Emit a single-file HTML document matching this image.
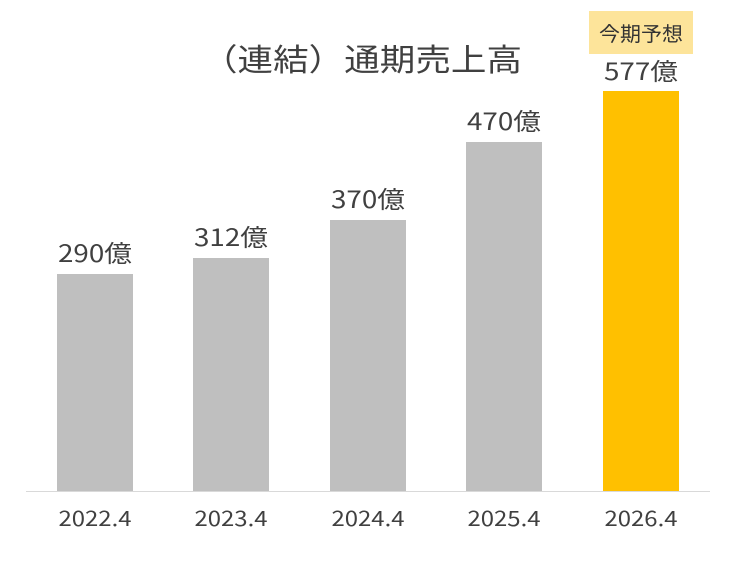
<!DOCTYPE html>
<html><head><meta charset="utf-8"><style>
html,body{margin:0;padding:0;background:#fff;}
svg{display:block;font-family:"Noto Sans CJK JP","Liberation Sans",sans-serif;}
</style></head><body>
<svg width="735" height="564" viewBox="0 0 735 564">
<rect x="589" y="11" width="104" height="43" fill="#fde49a"/>
<text x="641" y="41" font-size="20" fill="#333" text-anchor="middle" textLength="84" lengthAdjust="spacingAndGlyphs">今期予想</text>
<text x="362" y="71" font-size="31" fill="#404040" text-anchor="middle" textLength="320" lengthAdjust="spacingAndGlyphs">（連結）通期売上高</text>
<line x1="26" y1="491.5" x2="710" y2="491.5" stroke="#d9d9d9" stroke-width="1"/>
<g fill="#bfbfbf">
<rect x="57" y="274" width="76" height="217"/>
<rect x="193" y="258" width="76" height="233"/>
<rect x="330" y="220" width="76" height="271"/>
<rect x="466" y="142" width="76" height="349"/>
</g>
<rect x="603" y="91" width="76" height="400" fill="#ffc000"/>
<g font-size="24" fill="#404040" text-anchor="middle">
<text x="95" y="262" textLength="74" lengthAdjust="spacingAndGlyphs">290億</text>
<text x="231" y="246" textLength="74" lengthAdjust="spacingAndGlyphs">312億</text>
<text x="368" y="208" textLength="74" lengthAdjust="spacingAndGlyphs">370億</text>
<text x="504" y="130" textLength="74" lengthAdjust="spacingAndGlyphs">470億</text>
<text x="641" y="80" textLength="74" lengthAdjust="spacingAndGlyphs">577億</text>
</g>
<g font-size="21" fill="#404040" text-anchor="middle">
<text x="95" y="526" textLength="73" lengthAdjust="spacingAndGlyphs">2022.4</text>
<text x="231" y="526" textLength="73" lengthAdjust="spacingAndGlyphs">2023.4</text>
<text x="368" y="526" textLength="73" lengthAdjust="spacingAndGlyphs">2024.4</text>
<text x="504" y="526" textLength="73" lengthAdjust="spacingAndGlyphs">2025.4</text>
<text x="641" y="526" textLength="73" lengthAdjust="spacingAndGlyphs">2026.4</text>
</g>
</svg>
</body></html>
